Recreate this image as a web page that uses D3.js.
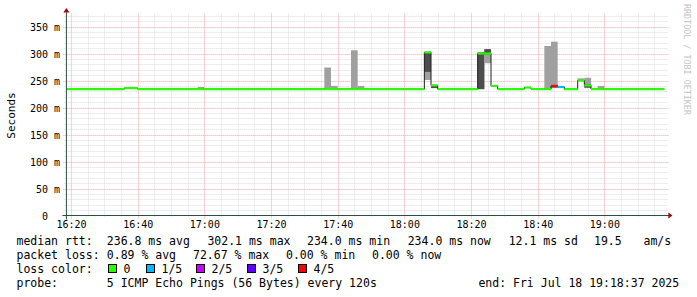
<!DOCTYPE html>
<html>
<head>
<meta charset="utf-8">
<script src="https://cdn.jsdelivr.net/npm/d3@7"></script>
<style>
body { margin: 0; background: #fff; }
svg { display: block; }
text { font-family: "DejaVu Sans Mono", monospace; white-space: pre; }
</style>
</head>
<body>
<svg id="chart" width="697" height="297" xml:space="preserve"></svg>
<script>
// time window of the graph (3 hours) and rrd step
var graphStart = "2025-07-18 16:18:37";
var graphEnd = "2025-07-18 19:18:37";
var firstStep = "2025-07-18 16:18:00";
var stepMinutes = 2;

// median rtt per 2 min step (ms), 16:18 .. 19:16
var medianMs = [
  234, 234, 234, 234, 234, 234, 234, 234, 234, 236,   // 16:18 - 16:36
  236, 234, 234, 234, 234, 234, 234, 234, 234, 234,   // 16:38 - 16:56
  234, 234, 234, 234, 234, 234, 234, 234, 234, 234,   // 16:58 - 17:16
  234, 234, 234, 234, 234, 234, 234, 234, 234, 234,   // 17:18 - 17:36
  234, 234, 234, 234, 234, 234, 234, 234, 234, 234,   // 17:38 - 17:56
  234, 234, 234, 234, 302.1, 241, 234, 234, 234, 234, // 17:58 - 18:16
  234, 234, 300, 300, 240, 234, 234, 234, 234, 237,   // 18:18 - 18:36
  234, 234, 234, 240, 238, 234, 234, 250, 241, 234,   // 18:38 - 18:56
  234, 234, 234, 234, 234, 234, 234, 234, 234, 234    // 18:58 - 19:16
];
// lost pings per step (out of 5)
var lossFifths = [
  0, 0, 0, 0, 0, 0, 0, 0, 0, 0,
  0, 0, 0, 0, 0, 0, 0, 0, 0, 0,
  0, 0, 0, 0, 0, 0, 0, 0, 0, 0,
  0, 0, 0, 0, 0, 0, 0, 0, 0, 0,
  0, 0, 0, 0, 0, 0, 0, 0, 0, 0,
  0, 0, 0, 0, 0, 0, 0, 0, 0, 0,
  0, 0, 0, 0, 0, 0, 0, 0, 0, 0,
  0, 0, 0, 4, 1, 0, 0, 0, 0, 0,
  0, 0, 0, 0, 0, 0, 0, 0, 0, 0
];

// steps with visible smoke (sorted pings 1,2,4,5 in ms)
var smokeTimes = ["16:58", "17:36", "17:38", "17:44", "17:46", "18:06", "18:08",
                  "18:22", "18:24", "18:42", "18:44", "18:52", "18:54", "18:58"];
var pingLo = [234, 234, 234, 234, 234, 251, 236, 234, 282, 234, 236, 249, 236, 234];
var pingQ1 = [234, 234, 234, 234, 234, 266, 236, 234, 298, 234, 237, 249, 237, 234];
var pingQ3 = [234, 234, 234, 234, 234, 303, 241, 302, 308, 236, 241, 251, 243, 234];
var pingHi = [238, 274, 240, 306, 240, 303, 241, 302, 308, 314, 322, 254, 255, 240];

var yTicks = [0, 50, 100, 150, 200, 250, 300, 350];
var yMax = 370.4;

var lossLabels = ["0", "1/5", "2/5", "3/5", "4/5"];
var lossColors = ["#26ff00", "#00b8ff", "#cc00ff", "#5e00ff", "#ff0000"];

var rttLegend = ["median rtt:", "236.8 ms avg", "302.1 ms max", "234.0 ms min", "234.0 ms now", "12.1 ms sd", "19.5", "am/s"];
var lossLegend = ["packet loss:", "0.89 % avg", "72.67 % max", "0.00 % min", "0.00 % now"];
var probeLegend = ["probe:", "5 ICMP Echo Pings (56 Bytes) every 120s", "end: Fri Jul 18 19:18:37 2025"];

// layout
var pL = 66.4, pR = 666.4, pT = 15.5, pB = 215.5;
var rttX = [16.5, 106.8, 207.4, 307, 407.7, 508.7, 594, 643.5];
var lossX = [16.5, 106.8, 193, 286, 372];
var probeX = [16.5, 106.8, 478.4];
var boxX = [108, 146, 196, 247, 298];
var rowY = [245, 259, 273, 287];

var parseTime = d3.timeParse("%Y-%m-%d %H:%M:%S");
var t0 = parseTime(graphStart), t1 = parseTime(graphEnd);
var s0 = parseTime(firstStep);
function stepAt(i) { return d3.timeMinute.offset(s0, i * stepMinutes); }
function hm(s) { return parseTime("2025-07-18 " + s + ":00"); }

var x = d3.scaleTime().domain([t0, t1]).range([pL, pR]);
var y = d3.scaleLinear().domain([0, yMax]).range([pB, pT]);

var svg = d3.select("#chart");

// grid
var grid = svg.append("g");
var minorY = d3.range(10, yMax, 10).filter(function(v) { return v % 50 !== 0; });
grid.selectAll(".hmin").data(minorY).enter().append("line")
  .attr("x1", pL - 2).attr("x2", pR + 2)
  .attr("y1", function(d) { return Math.round(y(d)) + 0.5; })
  .attr("y2", function(d) { return Math.round(y(d)) + 0.5; })
  .attr("stroke", "#dcdcdc").attr("stroke-dasharray", "1,1");
var minorX = d3.timeMinute.every(5).range(t0, t1).filter(function(d) { return d.getMinutes() % 20 !== 0; });
grid.selectAll(".vmin").data(minorX).enter().append("line")
  .attr("x1", function(d) { return Math.round(x(d)) + 0.5; })
  .attr("x2", function(d) { return Math.round(x(d)) + 0.5; })
  .attr("y1", pT - 2).attr("y2", pB + 2)
  .attr("stroke", "#dcdcdc").attr("stroke-dasharray", "1,1");
grid.selectAll(".hmaj").data(yTicks.filter(function(v) { return v > 0; })).enter().append("line")
  .attr("x1", pL - 3).attr("x2", pR + 2)
  .attr("y1", function(d) { return Math.round(y(d)) + 0.5; })
  .attr("y2", function(d) { return Math.round(y(d)) + 0.5; })
  .attr("stroke", "#eea7a7").attr("stroke-dasharray", "1,1");
var majorX = d3.timeMinute.every(20).range(t0, t1);
grid.selectAll(".vmaj").data(majorX).enter().append("line")
  .attr("x1", function(d) { return Math.round(x(d)) + 0.5; })
  .attr("x2", function(d) { return Math.round(x(d)) + 0.5; })
  .attr("y1", pT - 2).attr("y2", pB + 3)
  .attr("stroke", "#eea7a7").attr("stroke-dasharray", "1,1");

svg.append("clipPath").attr("id", "plot").append("rect")
  .attr("x", pL).attr("y", pT).attr("width", pR - pL).attr("height", pB - pT);
var plot = svg.append("g").attr("clip-path", "url(#plot)");

// smoke: outer pair light, inner pair dark
smokeTimes.forEach(function(s, i) {
  var a = hm(s), b = d3.timeMinute.offset(a, stepMinutes);
  plot.append("rect")
    .attr("x", x(a)).attr("width", x(b) - x(a))
    .attr("y", y(pingHi[i])).attr("height", y(pingLo[i]) - y(pingHi[i]))
    .attr("fill", "#a0a0a0");
  plot.append("rect")
    .attr("x", x(a)).attr("width", x(b) - x(a))
    .attr("y", y(pingQ3[i])).attr("height", y(pingQ1[i]) - y(pingQ3[i]))
    .attr("fill", "#4d4d4d");
});

// median line
var pts = medianMs.map(function(v, i) { return [stepAt(i), v]; });
pts.push([stepAt(medianMs.length), medianMs[medianMs.length - 1]]);
plot.append("path")
  .attr("d", d3.line().curve(d3.curveStepAfter)
    .x(function(d) { return x(d[0]); }).y(function(d) { return y(d[1]); })(pts))
  .attr("fill", "none").attr("stroke", "#202020").attr("stroke-width", 1);

// loss coloured median bands
plot.selectAll(".band").data(medianMs).enter().append("rect")
  .attr("x", function(d, i) { return x(stepAt(i)); })
  .attr("width", function(d, i) { return x(stepAt(i + 1)) - x(stepAt(i)); })
  .attr("y", function(d) { return y(d) - 1.1; })
  .attr("height", 2.2)
  .attr("fill", function(d, i) { return lossColors[lossFifths[i]]; });

// axes labels
var xAxis = svg.append("g").attr("transform", "translate(0," + pB + ")")
  .call(d3.axisBottom(x).ticks(d3.timeMinute.every(20)).tickFormat(d3.timeFormat("%H:%M")).tickSize(0));
xAxis.select(".domain").remove();
xAxis.selectAll("text").attr("y", 12).attr("dy", null)
  .attr("font-size", 10).attr("font-family", "DejaVu Sans Mono").attr("fill", "#000");

var yAxis = svg.append("g").attr("transform", "translate(60,0)")
  .call(d3.axisLeft(y).tickValues(yTicks).tickSize(0)
    .tickFormat(function(v) { return v === 0 ? "0  " : v + " m"; }));
yAxis.select(".domain").remove();
yAxis.selectAll("text").attr("x", 0).attr("dy", null).attr("y", 3.5)
  .attr("font-size", 10).attr("font-family", "DejaVu Sans Mono").attr("fill", "#000");

// axis lines with arrows
var axisCol = "#2c4d43", arrowCol = "#a80000";
svg.append("line").attr("x1", pL - 4).attr("x2", pR + 3)
  .attr("y1", pB).attr("y2", pB).attr("stroke", axisCol);
svg.append("line").attr("x1", pL).attr("x2", pL)
  .attr("y1", pB + 4).attr("y2", pT - 3).attr("stroke", axisCol);
svg.append("path").attr("d", "M" + (pR + 2) + "," + (pB - 3) + "L" + (pR + 6) + "," + pB + "L" + (pR + 2) + "," + (pB + 3) + "Z")
  .attr("fill", arrowCol);
svg.append("path").attr("d", "M" + (pL - 3) + "," + (pT - 3) + "L" + pL + "," + (pT - 7.5) + "L" + (pL + 3) + "," + (pT - 3) + "Z")
  .attr("fill", arrowCol);

// y title
svg.append("text").attr("transform", "translate(14.5," + ((pT + pB) / 2) + ") rotate(-90)")
  .attr("text-anchor", "middle").attr("font-family", "DejaVu Sans").attr("font-size", 11)
  .text("Seconds");

// watermark
svg.append("text").attr("transform", "translate(684,4) rotate(90)")
  .attr("font-size", 8.4).attr("fill", "#c4c4c4")
  .text("RRDTOOL / TOBI OETIKER");

// legend
function row(texts, xs, yy) {
  texts.forEach(function(t, i) {
    svg.append("text").attr("x", xs[i]).attr("y", yy).attr("font-size", 11.5).text(t);
  });
}
row(rttLegend, rttX, rowY[0]);
row(lossLegend, lossX, rowY[1]);
svg.append("text").attr("x", 16.5).attr("y", rowY[2]).attr("font-size", 11.5).text("loss color:");
lossLabels.forEach(function(l, i) {
  svg.append("rect").attr("x", boxX[i] + 0.5).attr("y", rowY[2] - 8.5).attr("width", 8).attr("height", 8)
    .attr("fill", lossColors[i]).attr("stroke", "#000");
  svg.append("text").attr("x", boxX[i] + 15.5).attr("y", rowY[2]).attr("font-size", 11.5).text(l);
});
row(probeLegend, probeX, rowY[3]);
</script>
</body>
</html>
